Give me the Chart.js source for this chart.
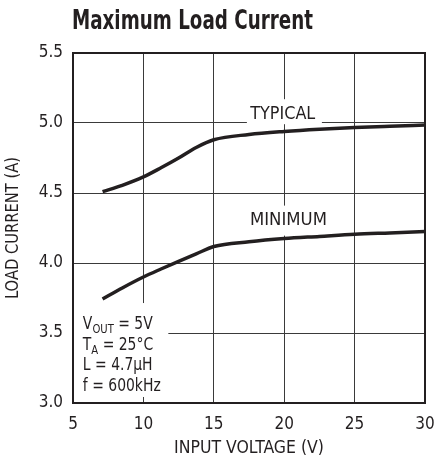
<!DOCTYPE html>
<html>
<head>
<meta charset="utf-8">
<script src="https://cdn.jsdelivr.net/npm/chart.js@4/dist/chart.umd.min.js"></script>
<style>
  html, body { margin: 0; padding: 0; background: #fff; }
</style>
</head>
<body>
<canvas id="chart" width="435" height="466"></canvas>
<script>
// values
const inputVoltage = [7.1, 8.5, 10, 11.25, 12.5, 13.75, 15, 17.5, 20, 22.5, 25, 27.5, 30];
const typicalCurrent = [4.51, 4.555, 4.615, 4.68, 4.75, 4.825, 4.88, 4.918, 4.94, 4.956, 4.968, 4.977, 4.985];
const minimumCurrent = [3.743, 3.822, 3.90, 3.957, 4.012, 4.065, 4.118, 4.152, 4.175, 4.19, 4.205, 4.215, 4.225];
const conditions = [
    ['V', 'OUT', ' = 5V'],
    ['T', 'A', ' = 25°C'],
    ['L = 4.7µH', '', ''],
    ['f = 600kHz', '', ''],
];

const FONT = "'Liberation Sans Narrow', 'DejaVu Sans Condensed', 'Arial Narrow', sans-serif";
const INK = '#231f20';

const toPoints = (ys) => inputVoltage.map((x, i) => ({x: x, y: ys[i]}));

// text squeezed to a target width (the original uses a narrow face)
function fitText(ctx, text, x, y, font, width) {
    ctx.save();
    ctx.font = font;
    const sx = width / ctx.measureText(text).width;
    ctx.translate(x, y);
    ctx.scale(sx, 1);
    ctx.fillText(text, 0, 0);
    ctx.restore();
}

// white patches that hide the grid behind the labels, then the text
const decorations = {
    id: 'decorations',
    beforeDatasetsDraw(chart) {
        const {ctx, chartArea: a, scales: {x, y}} = chart;
        ctx.save();
        ctx.fillStyle = '#fff';
        ctx.fillRect(x.getPixelForValue(17.35), y.getPixelForValue(5.17), 75, 25);
        ctx.fillRect(x.getPixelForValue(17.6), y.getPixelForValue(4.41), 80, 30);
        ctx.fillRect(a.left + 1, y.getPixelForValue(3.714), x.getPixelForValue(11.7) - a.left, y.getPixelForValue(3.043) - y.getPixelForValue(3.714));
        ctx.restore();
    },
    afterDraw(chart) {
        const {ctx, chartArea: a, scales: {x, y}} = chart;
        ctx.save();
        // frame
        ctx.strokeStyle = INK;
        ctx.lineWidth = 2;
        ctx.strokeRect(a.left, a.top, a.right - a.left, a.bottom - a.top);

        ctx.fillStyle = INK;
        ctx.textBaseline = 'middle';
        ctx.textAlign = 'center';
        fitText(ctx, 'TYPICAL', x.getPixelForValue(19.9), y.getPixelForValue(5.064), '18px ' + FONT, 65);
        fitText(ctx, 'MINIMUM', x.getPixelForValue(20.3), y.getPixelForValue(4.307), '18px ' + FONT, 77);

        // operating conditions
        ctx.textAlign = 'left';
        ctx.textBaseline = 'alphabetic';
        const sx = 0.86;
        let py = 329;
        conditions.forEach(([main, sub, rest]) => {
            ctx.save();
            ctx.translate(x.getPixelForValue(5.7), py);
            ctx.scale(sx, 1);
            let cx = 0;
            ctx.font = '18px ' + FONT;
            ctx.fillText(main, cx, 0);
            cx += ctx.measureText(main).width;
            if (sub) {
                ctx.font = '13px ' + FONT;
                ctx.fillText(sub, cx, 4);
                cx += ctx.measureText(sub).width;
                ctx.font = '18px ' + FONT;
                ctx.fillText(rest, cx, 0);
            }
            ctx.restore();
            py += 20.5;
        });

        // titles
        fitText(ctx, 'Maximum Load Current', 72, 29, 'bold 26px ' + FONT, 241);

        ctx.textAlign = 'center';
        ctx.textBaseline = 'middle';
        fitText(ctx, 'INPUT VOLTAGE (V)', (a.left + a.right) / 2, 448, '18px ' + FONT, 150);
        ctx.translate(13, (a.top + a.bottom) / 2);
        ctx.rotate(-Math.PI / 2);
        fitText(ctx, 'LOAD CURRENT (A)', 0, 0, '18px ' + FONT, 142);
        ctx.restore();
    }
};

new Chart(document.getElementById('chart'), {
    type: 'line',
    data: {
        datasets: [
            {
                label: 'TYPICAL',
                data: toPoints(typicalCurrent),
                borderColor: INK,
                borderWidth: 3.5,
                pointRadius: 0,
                cubicInterpolationMode: 'monotone',
            },
            {
                label: 'MINIMUM',
                data: toPoints(minimumCurrent),
                borderColor: INK,
                borderWidth: 3.5,
                pointRadius: 0,
                cubicInterpolationMode: 'monotone',
            },
        ],
    },
    options: {
        responsive: false,
        animation: false,
        devicePixelRatio: 1,
        layout: {padding: {top: 53, right: 10, left: 0, bottom: 0}},
        plugins: {legend: {display: false}, tooltip: {enabled: false}},
        scales: {
            x: {
                type: 'linear',
                min: 5, max: 30,
                afterFit: (s) => { s.height = 63; s.paddingLeft = 0; s.paddingRight = 0; },
                ticks: {stepSize: 5, color: INK, padding: 11, font: {family: FONT, size: 17}},
                grid: {color: '#3a3a3a', lineWidth: 1, drawTicks: false},
                border: {display: false},
            },
            y: {
                min: 3, max: 5.5,
                afterFit: (s) => { s.width = 73; s.paddingTop = 0; s.paddingBottom = 0; },
                ticks: {stepSize: 0.5, color: INK, padding: 10, font: {family: FONT, size: 17},
                        callback: (v) => v.toFixed(1)},
                grid: {color: '#3a3a3a', lineWidth: 1, drawTicks: false},
                border: {display: false},
            },
        },
    },
    plugins: [decorations],
});
</script>
</body>
</html>
